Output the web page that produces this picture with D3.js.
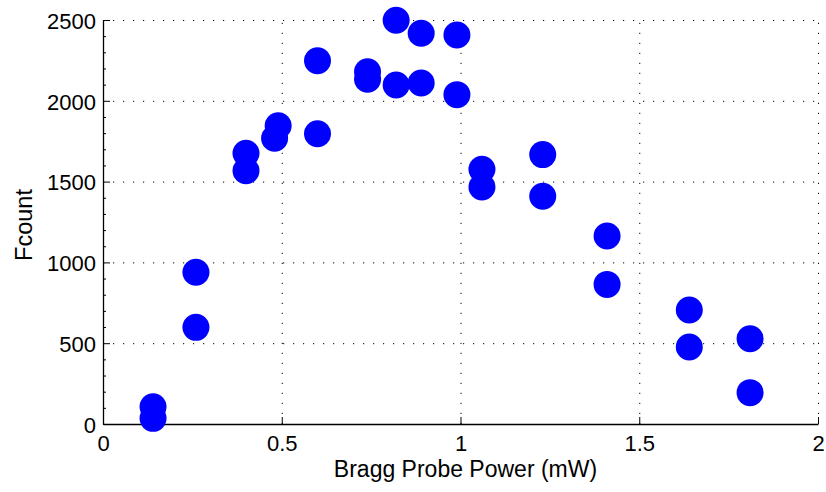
<!DOCTYPE html>
<html>
<head>
<meta charset="utf-8">
<script src="https://cdn.jsdelivr.net/npm/d3@7"></script>
<style>
  html, body { margin: 0; padding: 0; background: #fff; }
  svg { display: block; font-family: "Liberation Sans", Arial, Helvetica, sans-serif; }
  .tick text { fill: #000; }
  .grid line { stroke: #000; stroke-width: 1; stroke-dasharray: 1.2 8.8; }
  .grid .domain { display: none; }
</style>
</head>
<body>
<svg id="chart"></svg>
<script>
// ─── Data ─────────────────────────────────────────────────────────────────
const probePower = [0.14, 0.14, 0.26, 0.26, 0.40, 0.40, 0.48, 0.49, 0.60, 0.60,
                    0.74, 0.74, 0.82, 0.82, 0.89, 0.89, 0.99, 0.99, 1.06, 1.06,
                    1.23, 1.23, 1.41, 1.41, 1.64, 1.64, 1.81, 1.81];
const fcount     = [107, 35, 939, 598, 1675, 1567, 1768, 1846, 2248, 1796,
                    2180, 2133, 2498, 2098, 2418, 2110, 2407, 2038, 1576, 1467,
                    1667, 1409, 1163, 864, 705, 476, 528, 194];
const xTicks = [0, 0.5, 1, 1.5, 2];
const xTickLabels = ["0", "0.5", "1", "1.5", "2"];
const yTicks = [0, 500, 1000, 1500, 2000, 2500];
const yTickLabels = ["0", "500", "1000", "1500", "2000", "2500"];
const yMinorTicks = d3.range(0, 2501, 100).filter(v => v % 500 !== 0);

const W = 826, H = 492;
const margin = { top: 20, right: 8, bottom: 68, left: 103 };

const svg = d3.select("#chart").attr("width", W).attr("height", H);

const x = d3.scaleLinear().domain([0, 2]).range([margin.left, W - margin.right]);
const y = d3.scaleLinear().domain([0, 2500]).range([H - margin.bottom, margin.top]);

const plotW = W - margin.left - margin.right;
const plotH = H - margin.top - margin.bottom;

// grid (dotted)
svg.append("g")
  .attr("class", "grid")
  .attr("transform", `translate(0,${H - margin.bottom})`)
  .call(d3.axisBottom(x).tickValues(xTicks.slice(1)).tickSize(-plotH).tickFormat(""));
svg.append("g")
  .attr("class", "grid")
  .attr("transform", `translate(${margin.left},0)`)
  .call(d3.axisLeft(y).tickValues(yTicks.slice(1)).tickSize(-plotW).tickFormat(""));

// minor y ticks
svg.append("g")
  .attr("transform", `translate(${margin.left},0)`)
  .call(d3.axisLeft(y).tickValues(yMinorTicks).tickSizeInner(-3).tickSizeOuter(0).tickFormat(""))
  .call(g => g.select(".domain").remove())
  .selectAll("line").attr("stroke", "#000");

// axes
const xAxis = svg.append("g")
  .attr("transform", `translate(0,${H - margin.bottom})`)
  .call(d3.axisBottom(x).tickValues(xTicks)
    .tickFormat((d, i) => xTickLabels[i])
    .tickSizeInner(-7).tickSizeOuter(0).tickPadding(11));
const yAxis = svg.append("g")
  .attr("transform", `translate(${margin.left},0)`)
  .call(d3.axisLeft(y).tickValues(yTicks)
    .tickFormat((d, i) => yTickLabels[i])
    .tickSizeInner(-7).tickSizeOuter(0).tickPadding(7));

[xAxis, yAxis].forEach(g => {
  g.attr("font-family", null).attr("font-size", null);
  g.selectAll("text").style("font-size", "22px");
  g.select(".domain").attr("stroke", "#000").attr("stroke-width", 1.3);
  g.selectAll(".tick line").attr("stroke", "#000");
});
yAxis.selectAll("text").attr("dy", "0.38em");

// points
svg.append("g")
  .selectAll("circle")
  .data(probePower.map((p, i) => [p, fcount[i]]))
  .join("circle")
  .attr("cx", d => x(d[0]))
  .attr("cy", d => y(d[1]))
  .attr("r", 13.5)
  .attr("fill", "#0000ff");

// labels
svg.append("text")
  .attr("x", x(1) + 5)
  .attr("y", 477)
  .attr("text-anchor", "middle")
  .style("font-size", "23px")
  .text("Bragg Probe Power (mW)");

svg.append("text")
  .attr("transform", `translate(32,${(margin.top + H - margin.bottom) / 2 + 3}) rotate(-90)`)
  .attr("text-anchor", "middle")
  .style("font-size", "23.5px")
  .text("Fcount");
</script>
</body>
</html>
